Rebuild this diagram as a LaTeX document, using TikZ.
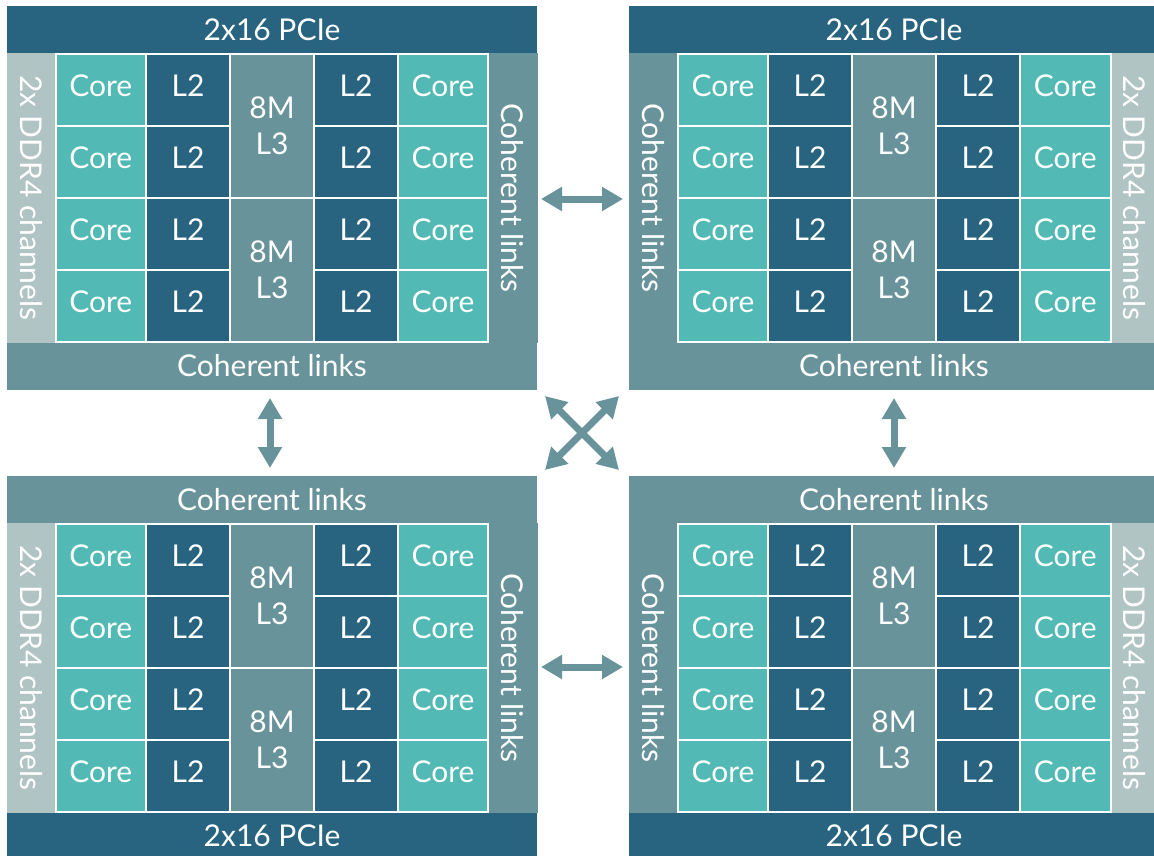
\documentclass[tikz,border=0pt]{standalone}
\usepackage{fontspec}
\setmainfont{Lato}
\usetikzlibrary{arrows.meta}
\definecolor{pcie}{HTML}{28647F}
\definecolor{coreC}{HTML}{52B9B4}
\definecolor{coh}{HTML}{69939B}
\definecolor{ddr}{HTML}{B0C4C3}
\begin{document}
\begin{tikzpicture}[x=1pt,y=-1pt,
  lbl/.style={text=white,font=\fontsize{30}{36}\selectfont,inner sep=0pt,outer sep=0pt},
  bar/.style={lbl,draw=none},
  cell/.style={lbl,draw=white,line width=2pt,text height=22pt,text depth=9pt},
  bigcell/.style={lbl,draw=white,line width=2pt,align=center},
  arr/.style={draw=coh,line width=7pt,arrows={Triangle[length=21pt,width=23pt]-Triangle[length=21pt,width=23pt]}}]
\path[use as bounding box] (0,0) rectangle (1154,856);
\clip (0,0) rectangle (1154,856);
\foreach \bn/\xs/\xf/\ys/\yf in {tl/0/1/0/1, tr/1166/-1/0/1, bl/0/1/-866/-1, br/1166/-1/-866/-1}{
 \begin{scope}[xshift=\xs pt, xscale=\xf, yshift=\ys pt, yscale=\yf]
  \node[bar,fill=pcie,minimum width=530pt,minimum height=48pt] (\bn-pcie) at (272,30) {2x16 PCIe};
  \node[bar,fill=coh,minimum width=530pt,minimum height=48pt] (\bn-cohh) at (272,366) {Coherent links};
  \node[bar,fill=ddr,rotate=-90,minimum width=290pt,minimum height=49pt] (\bn-ddr) at (31.25,198) {2x DDR4 channels};
  \node[bar,fill=coh,rotate=-90,minimum width=290pt,minimum height=50pt] (\bn-cohv) at (512.5,198) {Coherent links};
  \foreach \i/\cx/\cw/\cf/\ct in {1/100.75/90.5/coreC/Core, 2/188/84/pcie/L2, 4/356/84/pcie/L2, 5/443/90/coreC/Core}{
   \foreach \r/\cy in {1/90,2/162,3/234,4/306}{
    \node[cell,fill=\cf,minimum width=\cw pt,minimum height=72pt] (\bn-c\i\r) at (\cx,\cy) {\ct};
   }
  }
  \foreach \r/\cy in {1/126,2/270}{
   \node[bigcell,fill=coh,minimum width=84pt,minimum height=144pt] (\bn-l3\r) at (272,\cy) {8M\\L3};
  }
 \end{scope}
}
\coordinate (ha1) at (541,199); \coordinate (ha2) at (623,199);
\coordinate (hb1) at (541,667); \coordinate (hb2) at (623,667);
\coordinate (va1) at (270,398); \coordinate (va2) at (270,468);
\coordinate (vb1) at (894,398); \coordinate (vb2) at (894,468);
\coordinate (xa1) at (545,396); \coordinate (xa2) at (619,470);
\coordinate (xb1) at (619,396); \coordinate (xb2) at (545,470);
\draw[arr] (ha1) -- (ha2);
\draw[arr] (hb1) -- (hb2);
\draw[arr] (va1) -- (va2);
\draw[arr] (vb1) -- (vb2);
\draw[arr] (xa1) -- (xa2);
\draw[arr] (xb1) -- (xb2);
\end{tikzpicture}
\end{document}
